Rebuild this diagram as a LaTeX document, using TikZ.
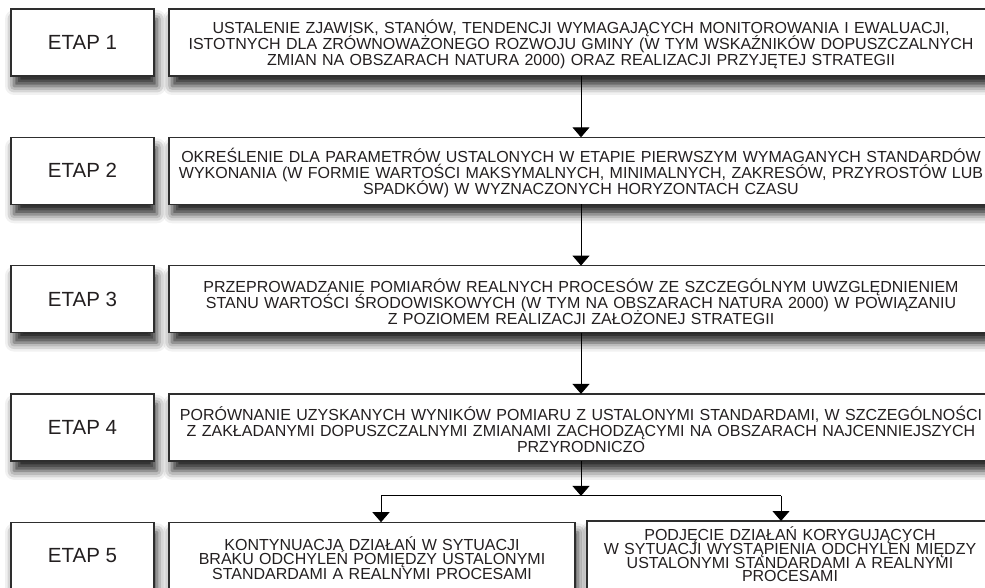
\documentclass[tikz,border=0pt]{standalone}
\usepackage{fontspec}
\setmainfont{Liberation Sans}
\usetikzlibrary{arrows.meta,positioning,shadows.blur}
\definecolor{ramka}{HTML}{2E2E2E}
\definecolor{napis}{HTML}{231F20}
\tikzset{
    etap/.style={
        rectangle,
        draw=ramka,
        line width=1.4pt,
        outer sep=0pt,
        fill=white,
        text=napis,
        minimum width=143pt,
        minimum height=67pt,
        font=\fontsize{20.5}{24}\selectfont,
        blur shadow={shadow xshift=3pt, shadow yshift=-10pt, shadow blur radius=9pt, shadow opacity=85},
    },
    opis/.style={
        etap,
        minimum width=824pt,
        text width=812pt,
        align=center,
        font=\fontsize{16}{16}\selectfont,
        execute at begin node={\lineskiplimit=-20pt\lineskip=0pt\rule{0pt}{18pt}},
    },
    wynik/.style={
        opis,
        minimum width=406pt,
        text width=396pt,
        inner ysep=1.5pt,
        font=\fontsize{16}{14.5}\selectfont,
        execute at begin node={\lineskiplimit=-20pt\lineskip=0pt\relax},
    },
}

\begin{document}
\begin{tikzpicture}[x=1pt,y=1pt,node distance=61.3pt and 15pt,>={Triangle[width=17pt,length=10pt]},line width=1pt]
    \clip (0,0) rectangle (985,587);
    \node [etap,anchor=north west] (e1) at (11,578) {ETAP 1};
    \node [opis] (t1) [right=of e1] {USTALENIE ZJAWISK, STANÓW, TENDENCJI WYMAGAJĄCYCH MONITOROWANIA I EWALUACJI,\\ISTOTNYCH DLA ZRÓWNOWAŻONEGO ROZWOJU GMINY (W TYM WSKAŹNIKÓW DOPUSZCZALNYCH\\ZMIAN NA OBSZARACH NATURA 2000) ORAZ REALIZACJI PRZYJĘTEJ STRATEGII};
    \node [etap] (e2) [below=of e1] {ETAP 2};
    \node [opis] (t2) [right=of e2] {OKREŚLENIE DLA PARAMETRÓW USTALONYCH W ETAPIE PIERWSZYM WYMAGANYCH STANDARDÓW\\WYKONANIA (W FORMIE WARTOŚCI MAKSYMALNYCH, MINIMALNYCH, ZAKRESÓW, PRZYROSTÓW LUB\\SPADKÓW) W WYZNACZONYCH HORYZONTACH CZASU};
    \node [etap] (e3) [below=of e2] {ETAP 3};
    \node [opis] (t3) [right=of e3] {PRZEPROWADZANIE POMIARÓW REALNYCH PROCESÓW ZE SZCZEGÓLNYM UWZGLĘDNIENIEM\\STANU WARTOŚCI ŚRODOWISKOWYCH (W TYM NA OBSZARACH NATURA 2000) W POWIĄZANIU\\Z POZIOMEM REALIZACJI ZAŁOŻONEJ STRATEGII};
    \node [etap] (e4) [below=of e3] {ETAP 4};
    \node [opis] (t4) [right=of e4] {PORÓWNANIE UZYSKANYCH WYNIKÓW POMIARU Z USTALONYMI STANDARDAMI, W SZCZEGÓLNOŚCI\\Z ZAKŁADANYMI DOPUSZCZALNYMI ZMIANAMI ZACHODZĄCYMI NA OBSZARACH NAJCENNIEJSZYCH\\PRZYRODNICZO};
    \node [etap] (e5) [below=of e4] {ETAP 5};
    \node [wynik] (t5a) [right=of e5] {KONTYNUACJA DZIAŁAŃ W SYTUACJI\\BRAKU ODCHYLEŃ POMIĘDZY USTALONYMI\\STANDARDAMI A REALNYMI PROCESAMI};
    \node [wynik,font=\fontsize{16}{13.8}\selectfont] (t5b) [node distance=12pt,right=of t5a] {PODJĘCIE DZIAŁAŃ KORYGUJĄCYCH\\W SYTUACJI WYSTĄPIENIA ODCHYLEŃ MIĘDZY\\USTALONYMI STANDARDAMI A REALNYMI\\PROCESAMI\rule[-7pt]{0pt}{7pt}};
    \coordinate [node distance=35pt,below=of t4] (split);
    \coordinate [node distance=200pt,left=of split] (splitL);
    \coordinate [node distance=200pt,right=of split] (splitR);
    \draw [->] (t1) -- (t2);
    \draw [->] (t2) -- (t3);
    \draw [->] (t3) -- (t4);
    \draw [->] (t4) -- (split);
    \draw (splitL) -- (splitR);
    \draw [->] (splitL) -- (splitL |- t5a.north);
    \draw [->] (splitR) -- (splitR |- t5b.north);
\end{tikzpicture}
\end{document}
